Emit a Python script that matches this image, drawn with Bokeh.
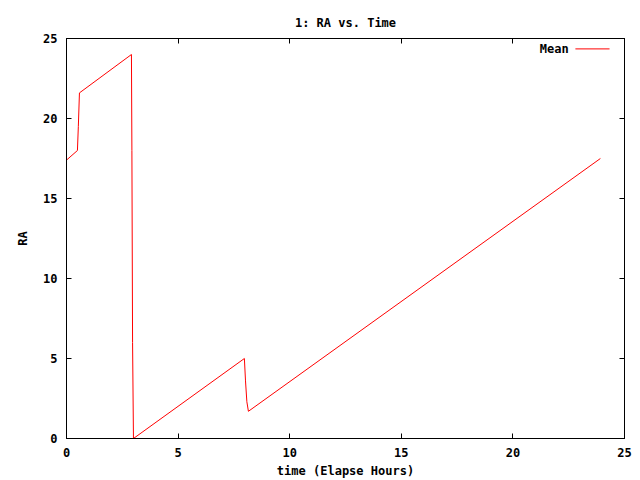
from bokeh.plotting import figure
from bokeh.models import LinearAxis, Range1d, Label, FixedTicker
from bokeh.embed import file_html
from bokeh.resources import INLINE

# Data
time_hours = [0.0, 0.49, 0.53, 0.58, 2.91, 2.93, 2.96, 3.0, 7.97, 8.02, 8.08, 8.15, 23.92]
ra_mean = [17.4, 18.0, 19.5, 21.6, 24.0, 18.0, 6.0, 0.0, 5.0, 3.6, 2.3, 1.7, 17.5]

x_ticks = [0, 5, 10, 15, 20, 25]
y_ticks = [0, 5, 10, 15, 20, 25]
title_text = "1: RA vs. Time"
x_label = "time (Elapse Hours)"
y_label = "RA"
series_name = "Mean"

FONT = "DejaVu Sans Mono"

p = figure(width=640, height=480, output_backend="svg", toolbar_location=None,
           x_range=Range1d(0, 25), y_range=Range1d(0, 25),
           min_border_left=66, min_border_right=16, min_border_top=38, min_border_bottom=42,
           x_axis_location=None, y_axis_location=None)

p.title.text = title_text
p.title.align = "center"
p.title.text_font = FONT
p.title.text_font_size = "12px"
p.title.text_font_style = "bold"
p.title.text_color = "black"
p.title.offset = 0
p.title.standoff = 18
p.title.text_line_height = 0.6

p.xgrid.visible = False
p.ygrid.visible = False
p.outline_line_color = "black"
p.outline_line_width = 1
p.background_fill_color = "white"
p.border_fill_color = "white"

def style_axis(ax, ticks, labels=True):
    ax.ticker = FixedTicker(ticks=ticks)
    ax.major_tick_in = 5
    ax.major_tick_out = 0
    ax.minor_tick_in = 0
    ax.minor_tick_out = 0
    ax.axis_line_color = "black"
    ax.major_tick_line_color = "black"
    if labels:
        ax.major_label_text_font = FONT
        ax.major_label_text_font_size = "12px"
        ax.major_label_text_font_style = "bold"
        ax.major_label_text_color = "black"
        ax.major_label_standoff = 9
        ax.axis_label_text_font = FONT
        ax.axis_label_text_font_size = "12px"
        ax.axis_label_text_font_style = "bold"
        ax.axis_label_text_color = "black"
    else:
        ax.major_label_overrides = {t: "" for t in ticks}
        ax.major_label_standoff = 0

xb = LinearAxis(axis_label=x_label)
style_axis(xb, x_ticks)
xb.axis_label_standoff = 4
p.add_layout(xb, "below")

yl = LinearAxis(axis_label=y_label)
style_axis(yl, y_ticks)
yl.axis_label_standoff = 10
p.add_layout(yl, "left")

xt = LinearAxis()
style_axis(xt, x_ticks, labels=False)
p.add_layout(xt, "above")

yr = LinearAxis()
style_axis(yr, y_ticks, labels=False)
p.add_layout(yr, "right")

p.line(time_hours, ra_mean, line_color="red", line_width=1)

# Legend (text left of the sample line, like gnuplot)
x_end = p.x_range.end
y_end = p.y_range.end
p.add_layout(Label(x=x_end - 2.5, y=y_end - 0.65, text=series_name,
                   text_font=FONT, text_font_size="12px", text_font_style="bold",
                   text_align="right", text_baseline="middle", text_color="black"))
p.line([x_end - 2.2, x_end - 0.67], [y_end - 0.65, y_end - 0.65],
       line_color="red", line_width=1)

open("out.html", "w").write(file_html(p, INLINE))
